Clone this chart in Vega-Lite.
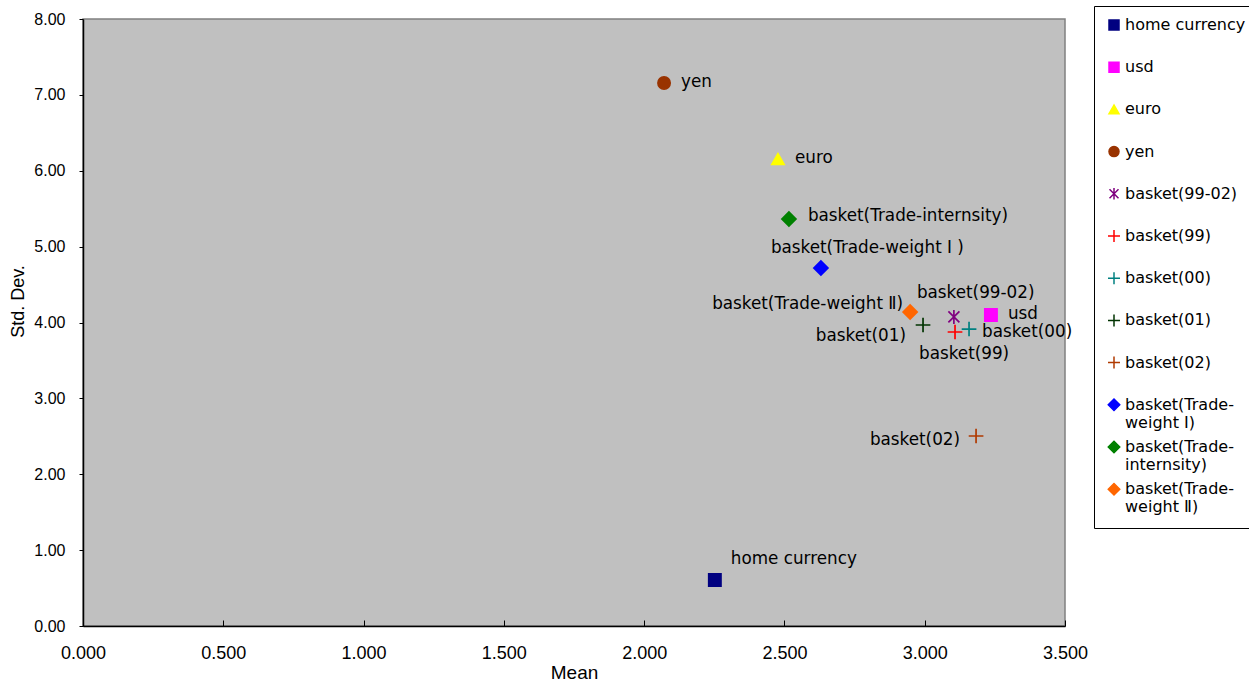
{
  "$schema": "https://vega.github.io/schema/vega-lite/v6.json",
  "width": 982,
  "height": 607,
  "autosize": {"type": "none"},
  "padding": {"left": 83, "top": 19, "right": 184, "bottom": 57},
  "background": "white",
  "config": {
    "view": {"fill": "#C0C0C0", "stroke": "#808080", "strokeWidth": 1.5},
    "axis": {
      "grid": false,
      "domainColor": "black",
      "domainWidth": 1.5,
      "tickColor": "black",
      "tickWidth": 1,
      "labelColor": "black",
      "labelFont": "Liberation Sans",
      "titleFont": "Liberation Sans",
      "titleFontWeight": "normal",
      "titleColor": "black"
    },
    "legend": {
      "orient": "none",
      "legendX": 1011,
      "legendY": -13,
      "padding": 12,
      "rowPadding": 8.2,
      "clipHeight": 14,
      "labelFont": "DejaVu Sans",
      "labelFontSize": 16,
      "labelColor": "black",
      "labelOffset": 3,
      "labelLimit": 300,
      "symbolSize": 100,
      "symbolStrokeWidth": 1.5,
      "strokeColor": "black",
      "fillColor": "white"
    }
  },
  "data": {
    "values": [
      {"name": "home currency", "label": "home currency", "mean": 2.252, "sd": 0.606},
      {"name": "usd", "label": "usd", "mean": 3.236, "sd": 4.099},
      {"name": "euro", "label": "euro", "mean": 2.477, "sd": 6.155},
      {"name": "yen", "label": "yen", "mean": 2.071, "sd": 7.157},
      {"name": "basket(99-02)", "label": "basket(99-02)", "mean": 3.104, "sd": 4.073},
      {"name": "basket(99)", "label": "basket(99)", "mean": 3.108, "sd": 3.875},
      {"name": "basket(00)", "label": "basket(00)", "mean": 3.158, "sd": 3.914},
      {"name": "basket(01)", "label": "basket(01)", "mean": 2.994, "sd": 3.967},
      {"name": "basket(02)", "label": "basket(02)", "mean": 3.183, "sd": 2.504},
      {"name": "basket(Trade-weight Ⅰ)", "label": "basket(Trade-weight Ⅰ )", "mean": 2.63, "sd": 4.718},
      {"name": "basket(Trade-internsity)", "label": "basket(Trade-internsity)", "mean": 2.516, "sd": 5.364},
      {"name": "basket(Trade-weight Ⅱ)", "label": "basket(Trade-weight Ⅱ)", "mean": 2.948, "sd": 4.138}
    ]
  },
  "encoding": {
    "x": {
      "field": "mean",
      "type": "quantitative",
      "title": "Mean",
      "scale": {"domain": [0, 3.5], "nice": false, "zero": true},
      "axis": {
        "values": [0, 0.5, 1, 1.5, 2, 2.5, 3, 3.5],
        "format": ".3f",
        "tickSize": -6,
        "labelFlush": false,
        "labelFontSize": 18,
        "labelPadding": 24,
        "titleFontSize": 19,
        "titleBaseline": "alphabetic",
        "titleY": 52
      }
    },
    "y": {
      "field": "sd",
      "type": "quantitative",
      "title": "Std. Dev.",
      "scale": {"domain": [0, 8], "nice": false, "zero": true},
      "axis": {
        "values": [0, 1, 2, 3, 4, 5, 6, 7, 8],
        "format": ".2f",
        "tickSize": 4,
        "labelFontSize": 16,
        "labelPadding": 14,
        "titleFontSize": 18,
        "titleBaseline": "middle",
        "titleX": -65,
        "titleY": 282
      }
    }
  },
  "layer": [
    {
      "mark": {"type": "point", "filled": true, "size": 150, "strokeWidth": 1.7, "opacity": 1},
      "encoding": {
        "fill": {
          "field": "name",
          "type": "nominal",
          "scale": {
            "domain": ["home currency", "usd", "euro", "yen", "basket(99-02)", "basket(99)", "basket(00)", "basket(01)", "basket(02)", "basket(Trade-weight Ⅰ)", "basket(Trade-internsity)", "basket(Trade-weight Ⅱ)"],
            "range": ["#000080", "#FF00FF", "#FFFF00", "#993300", "#800080", "#FF0000", "#008080", "#003300", "#B03A00", "#0000FF", "#008000", "#FF6600"]
          },
          "legend": {
            "title": null,
            "labelExpr": "indexof(datum.label, 'Trade-') >= 0 ? [slice(datum.label, 0, 13), slice(datum.label, 13)] : [datum.label, ' ']"
          }
        },
        "stroke": {
          "field": "name",
          "type": "nominal",
          "scale": {
            "domain": ["home currency", "usd", "euro", "yen", "basket(99-02)", "basket(99)", "basket(00)", "basket(01)", "basket(02)", "basket(Trade-weight Ⅰ)", "basket(Trade-internsity)", "basket(Trade-weight Ⅱ)"],
            "range": ["#000080", "#FF00FF", "#FFFF00", "#993300", "#800080", "#FF0000", "#008080", "#003300", "#B03A00", "#0000FF", "#008000", "#FF6600"]
          },
          "legend": {
            "title": null,
            "labelExpr": "indexof(datum.label, 'Trade-') >= 0 ? [slice(datum.label, 0, 13), slice(datum.label, 13)] : [datum.label, ' ']"
          }
        },
        "shape": {
          "field": "name",
          "type": "nominal",
          "scale": {
            "domain": ["home currency", "usd", "euro", "yen", "basket(99-02)", "basket(99)", "basket(00)", "basket(01)", "basket(02)", "basket(Trade-weight Ⅰ)", "basket(Trade-internsity)", "basket(Trade-weight Ⅱ)"],
            "range": [
              "square",
              "square",
              "triangle-up",
              "circle",
              "M-0.9,-0.9L0.9,0.9M-0.9,0.9L0.9,-0.9M0,-1.15L0,1.15",
              "M-1.2,0L1.2,0M0,-1.2L0,1.2",
              "M-1.2,0L1.2,0M0,-1.2L0,1.2",
              "M-1.2,0L1.2,0M0,-1.2L0,1.2",
              "M-1.2,0L1.2,0M0,-1.2L0,1.2",
              "M-1.15,0L0,-1.15L1.15,0L0,1.15Z",
              "M-1.15,0L0,-1.15L1.15,0L0,1.15Z",
              "M-1.15,0L0,-1.15L1.15,0L0,1.15Z"
            ]
          },
          "legend": {
            "title": null,
            "labelExpr": "indexof(datum.label, 'Trade-') >= 0 ? [slice(datum.label, 0, 13), slice(datum.label, 13)] : [datum.label, ' ']"
          }
        }
      }
    },
    {
      "transform": [{"filter": "indexof(['yen', 'euro', 'usd'], datum.name) >= 0"}],
      "mark": {"type": "text", "align": "left", "baseline": "middle", "dx": 17, "dy": -1, "font": "DejaVu Sans", "fontSize": 16.8, "color": "black"},
      "encoding": {"text": {"field": "label"}}
    },
    {
      "transform": [{"filter": "datum.name == 'basket(Trade-internsity)'"}],
      "mark": {"type": "text", "align": "left", "baseline": "middle", "dx": 19, "dy": -3, "font": "DejaVu Sans", "fontSize": 16.8, "color": "black"},
      "encoding": {"text": {"field": "label"}}
    },
    {
      "transform": [{"filter": "datum.name == 'basket(Trade-weight Ⅰ)'"}],
      "mark": {"type": "text", "align": "left", "baseline": "middle", "dx": -50, "dy": -20, "font": "DejaVu Sans", "fontSize": 16.8, "color": "black"},
      "encoding": {"text": {"field": "label"}}
    },
    {
      "transform": [{"filter": "datum.name == 'basket(Trade-weight Ⅱ)'"}],
      "mark": {"type": "text", "align": "right", "baseline": "middle", "dx": -7, "dy": -8, "font": "DejaVu Sans", "fontSize": 16.8, "color": "black"},
      "encoding": {"text": {"field": "label"}}
    },
    {
      "transform": [{"filter": "datum.name == 'basket(99-02)'"}],
      "mark": {"type": "text", "align": "left", "baseline": "middle", "dx": -37, "dy": -24, "font": "DejaVu Sans", "fontSize": 16.8, "color": "black"},
      "encoding": {"text": {"field": "label"}}
    },
    {
      "transform": [{"filter": "datum.name == 'basket(00)'"}],
      "mark": {"type": "text", "align": "left", "baseline": "middle", "dx": 13, "dy": 3, "font": "DejaVu Sans", "fontSize": 16.8, "color": "black"},
      "encoding": {"text": {"field": "label"}}
    },
    {
      "transform": [{"filter": "datum.name == 'basket(01)'"}],
      "mark": {"type": "text", "align": "right", "baseline": "middle", "dx": -17, "dy": 11, "font": "DejaVu Sans", "fontSize": 16.8, "color": "black"},
      "encoding": {"text": {"field": "label"}}
    },
    {
      "transform": [{"filter": "datum.name == 'basket(99)'"}],
      "mark": {"type": "text", "align": "left", "baseline": "middle", "dx": -36, "dy": 22, "font": "DejaVu Sans", "fontSize": 16.8, "color": "black"},
      "encoding": {"text": {"field": "label"}}
    },
    {
      "transform": [{"filter": "datum.name == 'basket(02)'"}],
      "mark": {"type": "text", "align": "right", "baseline": "middle", "dx": -16, "dy": 4, "font": "DejaVu Sans", "fontSize": 16.8, "color": "black"},
      "encoding": {"text": {"field": "label"}}
    },
    {
      "transform": [{"filter": "datum.name == 'home currency'"}],
      "mark": {"type": "text", "align": "left", "baseline": "middle", "dx": 16, "dy": -21, "font": "DejaVu Sans", "fontSize": 16.8, "color": "black"},
      "encoding": {"text": {"field": "label"}}
    }
  ]
}
